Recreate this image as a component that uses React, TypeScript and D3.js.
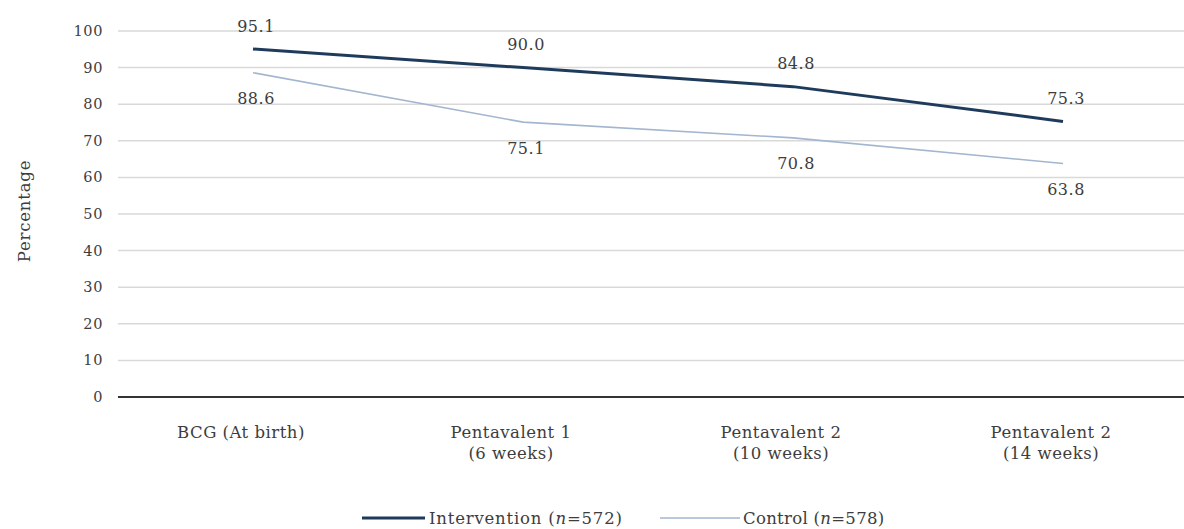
import React from "react";
import * as d3 from "d3";

const categories = [
  ["BCG (At birth)"],
  ["Pentavalent 1", "(6 weeks)"],
  ["Pentavalent 2", "(10 weeks)"],
  ["Pentavalent 2", "(14 weeks)"],
];
const intervention = [95.1, 90.0, 84.8, 75.3];
const control = [88.6, 75.1, 70.8, 63.8];
const interventionLabels = ["95.1", "90.0", "84.8", "75.3"];
const controlLabels = ["88.6", "75.1", "70.8", "63.8"];
const yTicks = [0, 10, 20, 30, 40, 50, 60, 70, 80, 90, 100];

const W = 1184;
const H = 529;
const FONT = "'DejaVu Serif', serif";
const TEXT = "#3d3d3d";
const DARK = "#1f3b5c";
const LIGHT = "#a3b6cf";

export default function App() {
  const keys = categories.map((_, i) => String(i));
  const x = d3.scaleBand<string>().domain(keys).range([118, 1198]).padding(0);
  const cx = (i: number) => (x(String(i)) as number) + x.bandwidth() / 2;
  const y = d3.scaleLinear().domain([0, 100]).range([397, 31]);

  const line = d3
    .line<number>()
    .x((_, i) => cx(i))
    .y((d) => y(d));

  return (
    <svg
      width={W}
      height={H}
      style={{ position: "absolute", left: 0, top: 0, background: "#fff" }}
      fontFamily={FONT}
    >
      {yTicks.map((t) => (
        <g key={t}>
          {t > 0 && (
            <line x1={118} x2={1198} y1={y(t)} y2={y(t)} stroke="#d9d9d9" strokeWidth={1.5} />
          )}
          <text x={103} y={y(t)} dy="0.35em" textAnchor="end" fontSize={14.5} letterSpacing={0.6} fill={TEXT}>
            {t}
          </text>
        </g>
      ))}
      <line x1={118} x2={1198} y1={y(0)} y2={y(0)} stroke="#333" strokeWidth={2} />

      <text
        transform={`translate(24,211) rotate(-90)`}
        textAnchor="middle"
        dy="0.35em"
        fontSize={16.5}
        letterSpacing={0.8}
        fill={TEXT}
      >
        Percentage
      </text>

      {categories.map((lines, i) => (
        <text key={i} x={cx(i) - 12} y={432} textAnchor="middle" fontSize={16.5} letterSpacing={0.5} fill={TEXT}>
          {lines.map((l, j) => (
            <tspan key={j} x={cx(i) - 12} dy={j === 0 ? "0.35em" : 21}>
              {l}
            </tspan>
          ))}
        </text>
      ))}

      <path d={line(control) || ""} fill="none" stroke={LIGHT} strokeWidth={1.6} />
      <path d={line(intervention) || ""} fill="none" stroke={DARK} strokeWidth={3} />

      {intervention.map((v, i) => (
        <text key={"i" + i} x={cx(i) + 3} y={y(v) - 23} dy="0.35em" textAnchor="middle" fontSize={16} letterSpacing={0.5} fill={TEXT}>
          {interventionLabels[i]}
        </text>
      ))}
      {control.map((v, i) => (
        <text key={"c" + i} x={cx(i) + 3} y={y(v) + 26} dy="0.35em" textAnchor="middle" fontSize={16} letterSpacing={0.5} fill={TEXT}>
          {controlLabels[i]}
        </text>
      ))}

      <line x1={362} x2={425} y1={518} y2={518} stroke={DARK} strokeWidth={3} />
      <text x={429} y={518} dy="0.35em" fontSize={16.5} letterSpacing={0.8} fill={TEXT}>
        Intervention (<tspan fontStyle="italic">n</tspan>=572)
      </text>
      <line x1={660} x2={740} y1={518} y2={518} stroke={LIGHT} strokeWidth={1.6} />
      <text x={743} y={518} dy="0.35em" fontSize={16.5} letterSpacing={0.3} fill={TEXT}>
        Control (<tspan fontStyle="italic">n</tspan>=578)
      </text>
    </svg>
  );
}
